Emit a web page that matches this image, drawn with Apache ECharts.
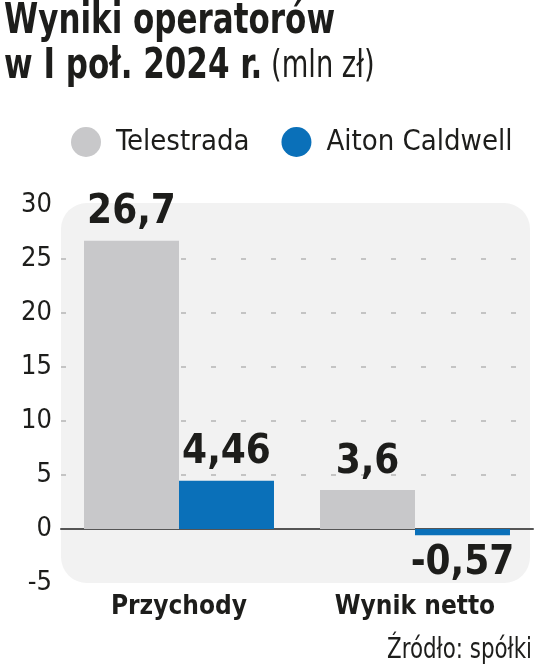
<!DOCTYPE html>
<html>
<head>
<meta charset="utf-8">
<script src="https://cdn.jsdelivr.net/npm/echarts@6/dist/echarts.min.js"></script>
<style>
html,body{margin:0;padding:0;background:#fff;}
#chart{width:536px;height:670px;}
</style>
</head>
<body>
<div id="chart"></div>
<script>
const categories = ['Przychody', 'Wynik netto'];
const seriesNames = ['Telestrada', 'Aiton Caldwell'];
const telestrada = [26.7, 3.6];
const aiton = [4.46, -0.57];
const yTicks = [-5, 0, 5, 10, 15, 20, 25, 30];

const FONT = '"DejaVu Sans Condensed", "Liberation Sans Narrow", sans-serif';
const TEXT = '#1d1d1b';
const fmt = v => String(v).replace('.', ',');

function toData(arr) {
  return arr.map(v => ({
    value: v,
    label: { position: v < 0 ? 'bottom' : 'top' }
  }));
}

const chart = echarts.init(document.getElementById('chart'), null, { renderer: 'canvas' });

const gridColors = yTicks.map(t => (t === yTicks[0] || t === 0 || t === yTicks[yTicks.length - 1]) ? 'rgba(0,0,0,0)' : '#c4c4c4');

const labelStyle = {
  show: true,
  fontFamily: FONT,
  fontWeight: 'bold',
  fontSize: 40,
  color: TEXT,
  distance: 8,
  formatter: p => fmt(p.value)
};

chart.setOption({
  animation: false,
  backgroundColor: '#ffffff',
  legend: {
    left: 66,
    top: 122,
    itemWidth: 40,
    itemHeight: 30,
    itemGap: 32,
    icon: 'circle',
    textStyle: { fontFamily: FONT, fontSize: 29, color: TEXT, padding: [0, 0, 0, 5] },
    data: seriesNames
  },
  graphic: [
    {
      type: 'rect',
      z: -100,
      shape: { x: 61, y: 203, width: 469, height: 380, r: 26 },
      style: { fill: '#f2f2f2' }
    },
    {
      type: 'text',
      x: 4,
      y: 0,
      scaleX: 0.82,
      style: {
        text: '{b|Wyniki operatorów}\n{b|w I poł. 2024 r.}{n| (mln zł)}',
        verticalAlign: 'top',
        rich: {
          b: { fontFamily: FONT, fontWeight: 'bold', fontSize: 42, lineHeight: 45, fill: TEXT },
          n: { fontFamily: FONT, fontWeight: 'normal', fontSize: 37, lineHeight: 45, fill: TEXT }
        }
      }
    },
    {
      type: 'text',
      x: 532,
      y: 636,
      scaleX: 0.82,
      style: {
        text: 'Źródło: spółki',
        align: 'right',
        verticalAlign: 'top',
        fontFamily: FONT,
        fontSize: 29,
        fill: TEXT
      }
    }
  ],
  grid: { left: 61, right: 3, top: 205, bottom: 87, containLabel: false },
  xAxis: [
    {
      type: 'category',
      data: categories,
      axisLine: { show: true, onZero: true, lineStyle: { color: '#555555', width: 2 } },
      axisTick: { show: false },
      axisLabel: { show: false },
      splitLine: { show: false }
    },
    {
      type: 'category',
      data: categories,
      position: 'bottom',
      axisLine: { show: false, onZero: false },
      axisTick: { show: false },
      axisLabel: { show: true, margin: 11, fontFamily: FONT, fontWeight: 'bold', fontSize: 26, color: TEXT },
      splitLine: { show: false }
    }
  ],
  yAxis: {
    type: 'value',
    min: yTicks[0],
    max: yTicks[yTicks.length - 1],
    interval: 5,
    axisLine: { show: false },
    axisTick: { show: false },
    axisLabel: { margin: 9, fontFamily: FONT, fontSize: 27, color: TEXT },
    splitLine: { show: true, lineStyle: { color: gridColors, width: 2, type: [5, 25] } }
  },
  series: [
    {
      name: seriesNames[0],
      type: 'bar',
      xAxisIndex: 0,
      barGap: '0%',
      barCategoryGap: '19.5%',
      itemStyle: { color: '#c8c8ca' },
      label: labelStyle,
      data: toData(telestrada)
    },
    {
      name: seriesNames[1],
      type: 'bar',
      xAxisIndex: 0,
      barGap: '0%',
      barCategoryGap: '19.5%',
      itemStyle: { color: '#0a70b9' },
      label: labelStyle,
      data: toData(aiton)
    }
  ]
});
</script>
</body>
</html>
